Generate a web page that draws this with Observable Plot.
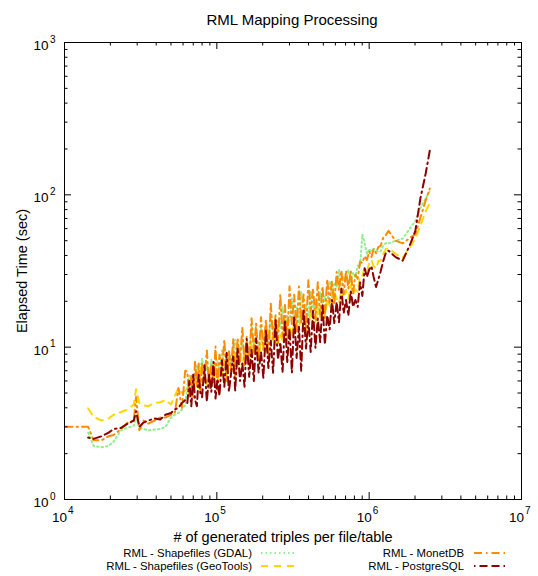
<!DOCTYPE html>
<html><head><meta charset="utf-8">
<script src="https://cdn.jsdelivr.net/npm/d3@7"></script>
<script src="https://cdn.jsdelivr.net/npm/@observablehq/plot@0.6"></script>
<style>html,body{margin:0;padding:0;background:#fff;overflow:hidden}</style>
</head><body><div id="chart"></div>
<script>
// # of generated triples per file/table (shared x values)
const triples = [
  10000, 14300, 15500, 17500, 19500, 21000, 23500, 26000, 28500, 29500, 31000, 33000, 35500, 39000, 42500, 46000, 50000, 53000, 56000, 59000, 62000,
  64000, 66000, 68000, 70000, 72000, 74000, 76000, 78000, 80000, 83000,
  86000, 89000, 92000, 95000, 98000, 101000, 104000, 108000, 112000, 116000,
  120000, 124000, 128000, 132000, 137000, 142000, 147000, 152000, 157000, 163000,
  169000, 175000, 181000, 188000, 195000, 202000, 210000, 218000, 226000, 234000,
  243000, 252000, 261000, 270000, 280000, 290000, 300000, 311000, 322000, 334000,
  346000, 358000, 371000, 385000, 399000, 413000, 428000, 444000, 460000, 477000,
  494000, 512000, 530000, 550000, 570000, 590000, 612000, 634000, 657000, 680000,
  705000, 730000, 757000, 784000, 812000, 841000, 871000, 902000, 934000, 967000,
  1000000, 1035000, 1070000, 1110000, 1150000, 1190000, 1240000, 1290000,
  1340000, 1490000, 1660000, 1870000, 2010000, 2170000, 2350000, 2500000
];
// Elapsed time (sec) per series
const gdal = [
  null, 2.75, 2.25, 2.2, 2.25, 2.4, 2.85, 2.97, 3.05, 3.5, 2.95, 2.9, 2.85, 2.88, 2.9, 3.0, 3.45, 3.6, 3.7, 3.9, 4.15,
  5.6, 6.5, 5.4, 6.6, 5.9, 7.5, 6.0, 7.1, 8.4, 6.6,
  7.6, 6.3, 8.3, 7.0, 6.5, 8.1, 6.9, 9.5, 7.7, 7.1,
  9.5, 7.8, 9.1, 11.2, 7.9, 9.2, 10.7, 8.8, 10.4, 8.9,
  13.7, 10.2, 11.9, 9.7, 13.2, 11.1, 12.5, 10.7, 16.0, 13.0,
  12.2, 15.3, 13.2, 18.5, 12.6, 16.1, 14.5, 20.9, 14.5, 18.3,
  14.3, 23.2, 17.0, 18.8, 16.1, 23.3, 17.3, 20.8, 16.2, 23.0,
  19.2, 21.6, 18.9, 27.1, 21.3, 26.0, 25.0, 32.3, 24.2, 29.0,
  27.2, 32.2, 26.8, 30.7, 28.8, 34.4, 33.6, 55, 47.9, 40.8,
  44.2, 42.5, 44.2, 43.1, 42.0, 42.6, 46.8, 48.3,
  48, 50, 51.6, 61, 67.5, 82, 95, 106
];
const geotools = [
  null, 3.96, 3.5, 3.3, 3.4, 3.6, 3.75, 3.9, 4.2, 5.3, 4.3, 4.15, 4.1, 4.3, 4.35, 4.5, 4.2, 4.8, 5.4, 5.0, 5.2,
  5.4, 4.9, 6.2, 5.0, 6.2, 5.8, 5.4, 7.4, 5.9, 6.6,
  5.5, 7.2, 6.4, 5.9, 7.8, 5.9, 6.9, 6.5, 8.1, 6.2,
  8.0, 7.4, 6.8, 9.2, 7.5, 8.8, 7.2, 9.7, 8.7, 8.0,
  10.9, 8.8, 10.0, 8.2, 11.3, 10.1, 9.4, 13.4, 10.5, 12.4,
  10.2, 13.6, 12.0, 11.1, 15.1, 12.3, 13.9, 11.5, 15.9, 14.1,
  12.9, 17.4, 14.1, 16.5, 13.0, 17.8, 15.7, 14.4, 19.4, 15.6,
  18.4, 15.6, 20.7, 18.7, 17.8, 23.0, 20.8, 19.4, 24.2, 21.2,
  23.8, 20.7, 25.6, 22.4, 24.0, 23.0, 29.4, 29.5, 33.0, 31.3,
  35.7, 37.4, 34.0, 32.8, 36.8, 37.0, 41.0, 44.1,
  44.6, 41, 38.5, 46, 52, 63, 78, 88
];
const monetdb = [
  3.0, 3.0, 2.45, 2.45, 2.6, 2.65, 2.9, 3.2, 3.3, 4.7, 2.85, 3.3, 3.15, 3.3, 3.45, 3.45, 3.6, 3.7, 5.4, 4.0, 7.0,
  6.9, 4.7, 6.5, 4.7, 8.1, 5.5, 7.8, 5.0, 7.8, 6.3,
  9.5, 5.4, 7.7, 5.8, 10.1, 5.2, 8.9, 7.1, 11.2, 6.0,
  9.5, 7.0, 11.4, 6.2, 11.5, 8.0, 13.5, 7.6, 11.7, 7.6,
  15.5, 9.3, 14.3, 8.2, 15.7, 9.6, 15.1, 8.6, 19.3, 11.3,
  16.2, 10.6, 22.2, 11.7, 18.9, 11.0, 25.1, 14.2, 22.1, 12.7,
  25.0, 14.5, 22.2, 12.8, 27.5, 17.1, 24.3, 15.2, 26.7, 16.4,
  25.1, 15.6, 27.9, 19.6, 27.2, 19.0, 31.2, 23.7, 31.9, 22.3,
  31.8, 24.2, 31.5, 22.4, 30.0, 28.1, 36.4, 35.7, 39.6, 37.4,
  42.5, 39.1, 44.2, 41.4, 45.5, 46.3, 52.7, 54.6,
  58, 50, 48, 52.6, 55, 71, 92, 110
];
const postgresql = [
  null, 2.55, 2.5, 2.6, 2.75, 2.9, 2.95, 3.15, 3.3, 3.8, 3.0, 3.2, 3.3, 3.4, 3.35, 3.6, 3.7, 3.9, 4.0, 4.3, 4.5,
  4.3, 6.0, 4.1, 6.6, 4.5, 4.1, 6.6, 5.0, 4.7, 7.6,
  4.4, 6.6, 5.1, 8.0, 4.6, 6.2, 4.8, 8.2, 5.5, 9.2,
  5.1, 6.7, 8.7, 5.2, 9.9, 6.0, 7.8, 5.5, 11.3, 6.4,
  9.6, 6.0, 11.4, 6.8, 9.3, 6.3, 13.0, 7.3, 11.0, 6.8,
  15.1, 8.3, 10.8, 6.8, 15.1, 8.0, 13.2, 6.8, 15.9, 8.5,
  13.6, 7.0, 17.8, 9.8, 15.3, 9.3, 17.3, 9.9, 15.4, 10.8,
  19.2, 10.4, 16.2, 13.1, 20.4, 14.4, 19.8, 14.6, 24.2, 16.7,
  20.4, 16.1, 23.3, 18.4, 20.4, 18.4, 26.6, 21.7, 33.0, 28.9,
  32.3, 34.0, 28.9, 24.8, 28.0, 31.5, 37.1, 42.0,
  43, 39, 37, 48, 58, 95, 138, 195
];
const seriesNames = ["RML - Shapefiles (GDAL)", "RML - Shapefiles (GeoTools)", "RML - MonetDB", "RML - PostgreSQL"];
const seriesValues = [gdal, geotools, monetdb, postgresql];
const seriesColors = ["#90ee90", "#ffd700", "#ff8c00", "#8b0000"];
const seriesDash = ["1.5,3", "7,6", "8,4,1.5,4", "1.5,4,8,4,8,4"];

const xTicks = [1e4, 1e5, 1e6, 1e7];
const xTickExp = ["4", "5", "6", "7"];
const xMinor = [2e4,3e4,4e4,5e4,6e4,7e4,8e4,9e4, 2e5,3e5,4e5,5e5,6e5,7e5,8e5,9e5, 2e6,3e6,4e6,5e6,6e6,7e6,8e6,9e6];
const yTicks = [1, 10, 100, 1000];
const yTickExp = ["0", "1", "2", "3"];
const yMinor = [2,3,4,5,6,7,8,9, 20,30,40,50,60,70,80,90, 200,300,400,500,600,700,800,900];

const W = 538, H = 576, mL = 64, mR = 17, mT = 42, mB = 77;
const innerH = H - mT - mB, innerW = W - mL - mR;
const font = "'Liberation Sans', Arial, Helvetica, sans-serif";
const majorLen = 7, minorLen = 3.5;

function table(ys) {
  return triples.map((x, i) => ({x, y: ys[i]})).filter(d => d.y != null);
}

const plot = Plot.plot({
  width: W, height: H,
  marginLeft: mL, marginRight: mR, marginTop: mT, marginBottom: mB,
  style: {fontFamily: font, background: "white", color: "black", overflow: "visible"},
  x: {type: "log", domain: [1e4, 1e7], axis: null},
  y: {type: "log", domain: [1, 1e3], axis: null},
  marks: [
    ...seriesValues.map((vals, i) => Plot.line(table(vals), {
      x: "x", y: "y", stroke: seriesColors[i], strokeWidth: 2,
      strokeDasharray: seriesDash[i], clip: true
    })),
    // inward ticks on all four sides
    Plot.ruleX(xTicks, {x: d => d, insetTop: innerH - majorLen, stroke: "black"}),
    Plot.ruleX(xTicks, {x: d => d, insetBottom: innerH - majorLen, stroke: "black"}),
    Plot.ruleX(xMinor, {x: d => d, insetTop: innerH - minorLen, stroke: "black"}),
    Plot.ruleX(xMinor, {x: d => d, insetBottom: innerH - minorLen, stroke: "black"}),
    Plot.ruleY(yTicks, {y: d => d, insetRight: innerW - majorLen, stroke: "black"}),
    Plot.ruleY(yTicks, {y: d => d, insetLeft: innerW - majorLen, stroke: "black"}),
    Plot.ruleY(yMinor, {y: d => d, insetRight: innerW - minorLen, stroke: "black"}),
    Plot.ruleY(yMinor, {y: d => d, insetLeft: innerW - minorLen, stroke: "black"}),
    Plot.frame({stroke: "black", strokeWidth: 1}),
    // x tick labels 10^n
    Plot.text(xTicks, {x: d => d, text: () => "10", frameAnchor: "bottom", textAnchor: "end", lineAnchor: "bottom", dx: 2.5, dy: 22, fontSize: 13.5, fill: "black"}),
    Plot.text(xTicks, {x: d => d, text: (d, i) => xTickExp[i], frameAnchor: "bottom", textAnchor: "start", lineAnchor: "bottom", dx: 3.5, dy: 14, fontSize: 10, fill: "black"}),
    // y tick labels 10^n
    Plot.text(yTicks, {y: d => d, text: () => "10", frameAnchor: "left", textAnchor: "end", lineAnchor: "bottom", dx: -16, dy: 7.5, fontSize: 13.5, fill: "black"}),
    Plot.text(yTicks, {y: d => d, text: (d, i) => yTickExp[i], frameAnchor: "left", textAnchor: "end", lineAnchor: "bottom", dx: -9, dy: 0, fontSize: 10, fill: "black"}),
    // title and axis labels
    Plot.text(["RML Mapping Processing"], {frameAnchor: "top", textAnchor: "middle", lineAnchor: "bottom", dx: -1, dy: -18, fontSize: 15, fill: "black"}),
    Plot.text(["# of generated triples per file/table"], {frameAnchor: "bottom", textAnchor: "middle", lineAnchor: "bottom", dx: -10, dy: 42, fontSize: 14.5, fill: "black"}),
    Plot.text(["Elapsed Time (sec)"], {frameAnchor: "left", textAnchor: "middle", lineAnchor: "middle", rotate: -90, dx: -42, fontSize: 14.5, fill: "black"})
  ]
});

// legend (two columns, two rows) below the plot
const svg = d3.select(plot);
const legendPos = [
  {tx: 252, lx1: 261, lx2: 296, y: 553},
  {tx: 252, lx1: 261, lx2: 296, y: 566},
  {tx: 464, lx1: 474, lx2: 508, y: 553},
  {tx: 464, lx1: 474, lx2: 508, y: 566}
];
const lg = svg.append("g").attr("font-family", font).attr("font-size", 11.4);
seriesNames.forEach((name, i) => {
  const p = legendPos[i];
  lg.append("text").attr("x", p.tx).attr("y", p.y + 4).attr("text-anchor", "end").attr("fill", "black").text(name);
  lg.append("line").attr("x1", p.lx1).attr("x2", p.lx2).attr("y1", p.y).attr("y2", p.y)
    .attr("stroke", seriesColors[i]).attr("stroke-width", 2).attr("stroke-dasharray", seriesDash[i]);
});

document.getElementById("chart").appendChild(plot);
</script>
</body></html>
